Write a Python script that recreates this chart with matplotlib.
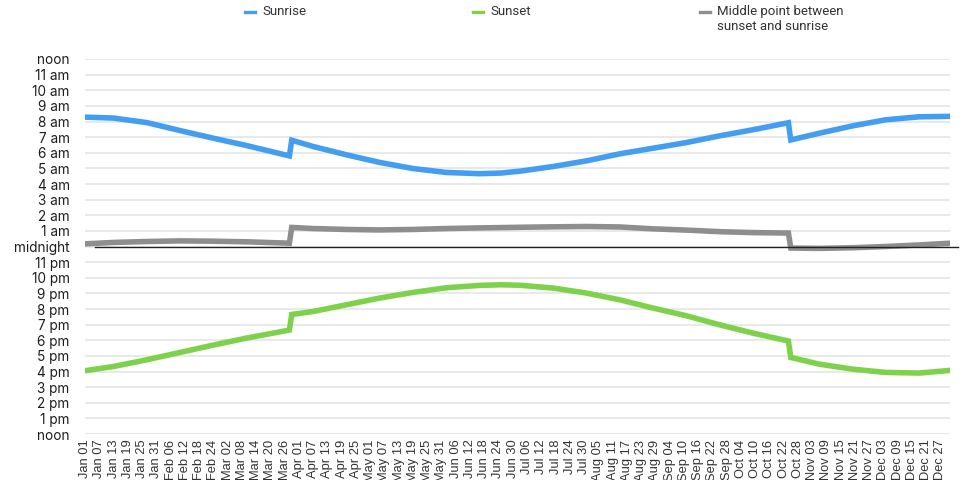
#!/usr/bin/env python3
# -*- coding: utf-8 -*-

"""
Sunrise, sunset and the middle of the night over one year (daylight saving jumps included)
"""

import pandas as pd
import matplotlib
matplotlib.use("Agg")
import matplotlib.pyplot as plt
from matplotlib.lines import Line2D

# day of year (Jan 01 = 0) where the values were read
days = [0, 12, 26, 40, 54, 68, 86, 87, 96, 110, 124, 138, 152, 166, 175, 183,
        197, 211, 225, 239, 253, 267, 281, 296, 297, 309, 323, 337, 351, 364]

# clock hours (am)
sunrise = [8.28, 8.22, 7.93, 7.42, 6.93, 6.46, 5.80, 6.80, 6.40, 5.87, 5.38, 4.99, 4.74, 4.66, 4.70, 4.82,
           5.12, 5.48, 5.93, 6.29, 6.65, 7.08, 7.47, 7.92, 6.82, 7.25, 7.72, 8.11, 8.30, 8.33]

# clock hours (pm, 24h)
sunset = [16.05, 16.32, 16.75, 17.22, 17.69, 18.14, 18.65, 19.65, 19.84, 20.27, 20.70, 21.06, 21.36, 21.51, 21.55, 21.52,
          21.34, 21.02, 20.59, 20.06, 19.57, 18.99, 18.46, 17.95, 16.90, 16.47, 16.15, 15.94, 15.90, 16.07]

# hours after midnight
middle = [0.17, 0.26, 0.32, 0.36, 0.34, 0.30, 0.21, 1.22, 1.15, 1.09, 1.06, 1.09, 1.15, 1.19, 1.21, 1.23,
          1.26, 1.28, 1.25, 1.13, 1.05, 0.95, 0.89, 0.86, -0.10, -0.12, -0.08, 0.00, 0.10, 0.21]

tick_dates = pd.date_range("2023-01-01", "2023-12-31", freq="6D")
tick_days = [d.dayofyear - 1 for d in tick_dates]
tick_labels = [d.strftime("%b %d") for d in tick_dates]

hour_ticks = list(range(12, -13, -1))
hour_labels = ["noon", "11 am", "10 am", "9 am", "8 am", "7 am", "6 am", "5 am", "4 am", "3 am", "2 am", "1 am",
               "midnight",
               "11 pm", "10 pm", "9 pm", "8 pm", "7 pm", "6 pm", "5 pm", "4 pm", "3 pm", "2 pm", "1 pm", "noon"]

if __name__ == "__main__":
    blue = "#439ef2"
    green = "#7ed24b"
    grey = "#8e8e8e"

    fig = plt.figure(figsize=(9.78, 4.8), dpi=100)
    ax = fig.add_axes([85/978, 1 - 434/480, 865/978, 375/480])

    for h in hour_ticks:
        ax.axhline(h, color="#e3e3e3", lw=1.1, zorder=0)

    ax.plot(days, sunrise, color=blue, lw=4.0, solid_joinstyle="miter", zorder=3)
    ax.plot(days, [h - 24 for h in sunset], color=green, lw=4.0, solid_joinstyle="miter", zorder=3)
    ax.plot(days, middle, color=grey, lw=4.0, solid_joinstyle="miter", zorder=3)

    # baseline at midnight, a bit offset like in the original
    ax.plot([0.012, 1.009], [0, 0], transform=ax.get_yaxis_transform(),
            color="#222222", lw=1.0, clip_on=False, zorder=4)

    ax.set_xlim(0, 364)
    ax.set_ylim(-12, 12)
    ax.set_xticks(tick_days)
    ax.set_xticklabels(tick_labels, rotation=90, fontsize=9.3, family="Liberation Sans", color="#333333")
    ax.set_yticks(hour_ticks)
    ax.set_yticklabels(hour_labels, fontsize=9.8, family="Inter", color="#1e1e1e")
    ax.tick_params(axis="x", length=0, pad=4)
    ax.tick_params(axis="y", length=0, pad=11)
    for s in ax.spines.values():
        s.set_visible(False)

    # legend on top
    entries = [(blue, "Sunrise", 245), (green, "Sunset", 473), (grey, "Middle point between\nsunset and sunrise", 700)]
    for col, lab, px in entries:
        fig.add_artist(Line2D([px/978, (px + 10)/978], [1 - 12/480, 1 - 12/480],
                              color=col, lw=2.4, transform=fig.transFigure))
        fig.text((px + 17)/978, 1 - 5/480, lab, ha="left", va="top", fontsize=9.5,
                 family="Roboto", color="#333333", linespacing=1.25)

    plt.savefig("out.png", dpi=100)
